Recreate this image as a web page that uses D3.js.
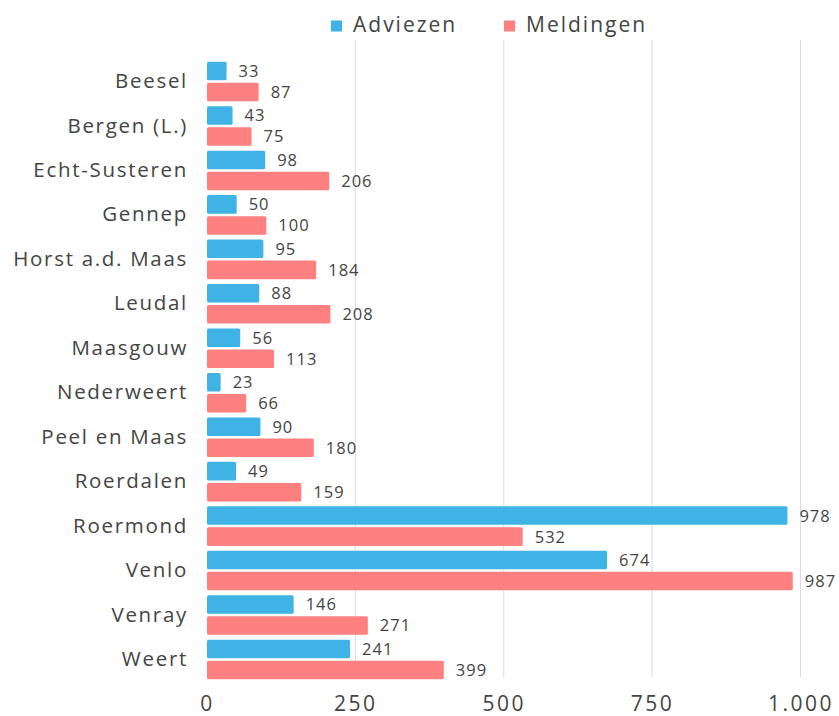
<!DOCTYPE html>
<html><head><meta charset="utf-8">
<script src="https://cdn.jsdelivr.net/npm/d3@7"></script>
<style>body{margin:0;background:#fff}svg{display:block;font-family:"Open Sans",sans-serif}</style>
</head><body><svg id="c" width="839" height="716"></svg>
<script>
const categories = ["Beesel","Bergen (L.)","Echt-Susteren","Gennep","Horst a.d. Maas","Leudal","Maasgouw","Nederweert","Peel en Maas","Roerdalen","Roermond","Venlo","Venray","Weert"];
const adviezen = [33,43,98,50,95,88,56,23,90,49,978,674,146,241];
const meldingen = [87,75,206,100,184,208,113,66,180,159,532,987,271,399];
const seriesNames = ["Adviezen","Meldingen"];
const xTicks = [0,250,500,750,1000];

const colors = ["#3fb3e5","#ff8080"];
const svg = d3.select("#c");
const locale = d3.formatLocale({decimal:",",thousands:".",grouping:[3],currency:["€",""]});
const fmt = locale.format(",d");

const x = d3.scaleLinear().domain([0,1000]).range([207,800.5]);
const y = d3.scaleBand().domain(categories).range([59.5,681.5]).paddingInner(0.11).paddingOuter(0.05);
const ys = d3.scaleBand().domain(seriesNames).range([0,y.bandwidth()]).paddingInner(0.12);

// grid
svg.append("g").selectAll("line").data(xTicks.filter(d=>d>0)).join("line")
  .attr("x1",d=>x(d)).attr("x2",d=>x(d)).attr("y1",40).attr("y2",677)
  .attr("stroke","#dcdcdc").attr("stroke-width",1);

// x axis labels
const xa = svg.append("g").attr("transform","translate(0,680)")
  .call(d3.axisBottom(x).tickValues(xTicks).tickFormat(fmt).tickSize(0).tickPadding(16));
xa.select(".domain").remove();
xa.selectAll("text").attr("font-size",21).attr("letter-spacing",2.5).attr("fill","#444").attr("font-family","Open Sans, sans-serif");

// y axis labels
const ya = svg.append("g").attr("transform","translate(207,0)")
  .call(d3.axisLeft(y).tickSize(0).tickPadding(19));
ya.select(".domain").remove();
ya.selectAll("text").attr("font-size",20.5).attr("letter-spacing",1.7).attr("fill","#444").attr("font-family","Open Sans, sans-serif");

const data = [adviezen, meldingen];
data.forEach((vals,si)=>{
  const g = svg.append("g");
  g.selectAll("rect").data(vals).join("rect")
    .attr("x",x(0)).attr("y",(d,i)=>y(categories[i])+ys(seriesNames[si]))
    .attr("width",d=>x(d)-x(0)).attr("height",ys.bandwidth())
    .attr("rx",1.5).attr("fill",colors[si]);
  g.selectAll("text").data(vals).join("text")
    .attr("x",d=>x(d)+12).attr("y",(d,i)=>y(categories[i])+ys(seriesNames[si])+ys.bandwidth()/2)
    .attr("dy","0.36em").attr("font-size",16.5).attr("letter-spacing",1).attr("fill","#444").text(d=>fmt(d));
});

// legend
const lg = svg.append("g");
const lx = [331,504];
seriesNames.forEach((n,i)=>{
  lg.append("rect").attr("x",lx[i]).attr("y",20.5).attr("width",11).attr("height",11).attr("fill",colors[i]);
  lg.append("text").attr("x",lx[i]+22).attr("y",25).attr("dy","0.35em").attr("font-size",21).attr("letter-spacing",2).attr("fill","#444").text(n);
});
</script></body></html>
